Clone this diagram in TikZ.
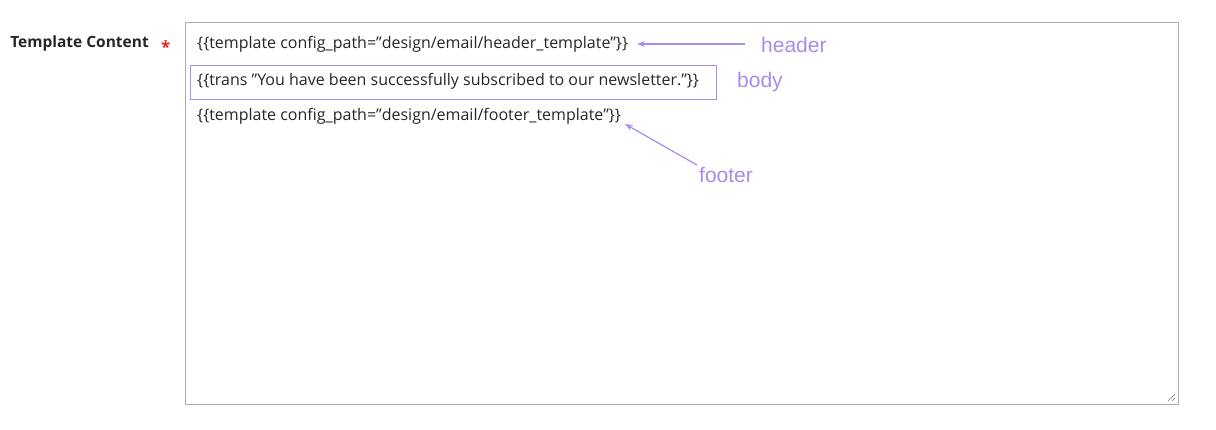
\documentclass[tikz,border=0pt]{standalone}
\usepackage{fontspec}
\setmainfont{Open Sans}
\newfontfamily\annfont{Liberation Sans}
\usetikzlibrary{arrows.meta}
\definecolor{ann}{HTML}{A88BEB}
\definecolor{frame}{HTML}{ADADAD}
\definecolor{req}{HTML}{E22626}
\newcommand{\dq}{{\char34}}
\begin{document}
\begin{tikzpicture}[x=1pt,y=-1pt,
  code/.style={anchor=west,inner sep=0pt,font=\fontsize{16}{18}\selectfont,text=black!85},
  annlbl/.style={anchor=west,inner sep=0pt,font=\annfont\fontsize{21}{24}\selectfont,text=ann},
  annarrow/.style={draw=ann,line width=1.2pt,-{Stealth[length=8pt,width=6pt]}}]
\useasboundingbox (0,0) rectangle (1216,430);
\draw[frame,line width=0.8pt] (185,22) rectangle (1178,404);
\draw[frame!70!black,line width=0.5pt] (1168,401) -- (1175,394) (1172,401) -- (1175,398);
\node[anchor=east,inner sep=0pt,font=\bfseries\fontsize{15.5}{17}\selectfont,text=black!85] (lbl) at (149,43) {Template Content};
\node[anchor=west,inner sep=0pt,text=req,font=\bfseries\fontsize{17}{17}\selectfont] (star) at (161,47) {*};
\node[code] (l1) at (197,44) {\{\{template config\_path=\dq design/email/header\_template\dq\}\}};
\node[code] (l2) at (197,81) {\{\{trans \dq You have been successfully subscribed to our newsletter.\dq\}\}};
\node[code] (l3) at (197,116) {\{\{template config\_path=\dq design/email/footer\_template\dq\}\}};
\node[draw=ann,line width=1.2pt,minimum width=526pt,minimum height=34pt,anchor=north west] (bodybox) at (190,65) {};
\node[annlbl] (hd) at (761,45) {header};
\node[annlbl] (bd) at (737,82) {body};
\node[annlbl] (ft) at (699,175) {footer};
\coordinate (hs) at (745,44);
\coordinate (he) at (637,44);
\coordinate (fs) at (697,165);
\coordinate (fe) at (625,124);
\draw[annarrow] (hs) -- (he);
\draw[annarrow] (fs) -- (fe);
\end{tikzpicture}
\end{document}
